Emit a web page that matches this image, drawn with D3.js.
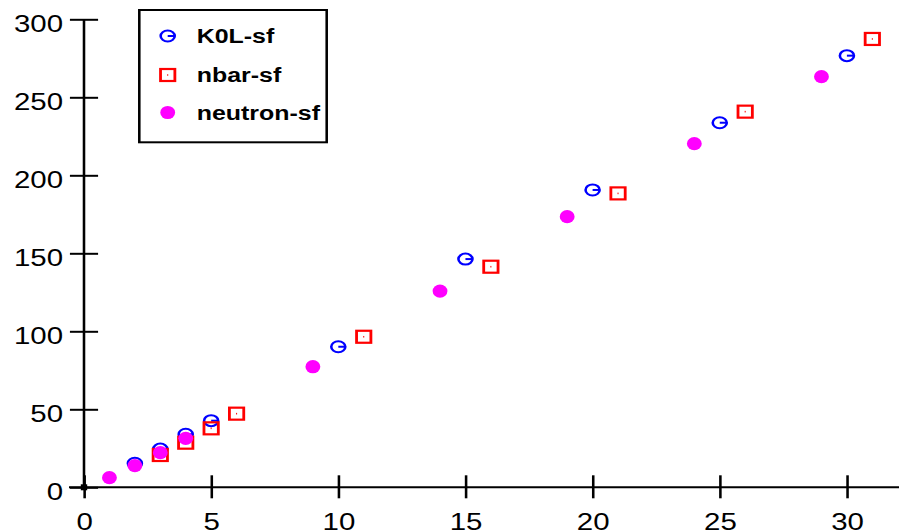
<!DOCTYPE html>
<html>
<head>
<meta charset="utf-8">
<script src="https://cdn.jsdelivr.net/npm/d3@7/dist/d3.min.js"></script>
<style>
  html, body { margin: 0; padding: 0; background: #fff; }
  svg { display: block; }
  text { font-family: "Liberation Sans", Arial, sans-serif; }
</style>
</head>
<body>
<script>
// Series: x positions and values
const k0lX = [2, 3, 4, 5, 10, 15, 20, 25, 30];
const k0lY = [15.4, 24.5, 34.0, 42.7, 90.1, 146.3, 190.6, 233.7, 276.7];
const nbarX = [3, 4, 5, 6, 11, 16, 21, 26, 31];
const nbarY = [20.7, 28.6, 37.8, 47.2, 96.5, 141.4, 188.4, 240.8, 287.4];
const neutronX = [1, 2, 3, 4, 9, 14, 19, 24, 29];
const neutronY = [6.2, 13.9, 22.2, 31.4, 77.3, 125.8, 173.5, 220.3, 263.2];

const seriesNames = ["K0L-sf", "nbar-sf", "neutron-sf"];
const xTicks = [0, 5, 10, 15, 20, 25, 30];
const yTicks = [0, 50, 100, 150, 200, 250, 300];

const W = 899, H = 531;
const SX = 1.28; // horizontal stretch of the whole drawing

const svg = d3.select("body").append("svg")
  .attr("width", W).attr("height", H);

const g = svg.append("g").attr("transform", `scale(${SX},1)`);

const x = d3.scaleLinear().domain([0, 32]).range([84 / SX, (84 + 25.43 * 32) / SX]);
const y = d3.scaleLinear().domain([0, 300]).range([487.3, 19.3]);

// X axis
const xAxisG = g.append("g")
  .attr("transform", `translate(0,${y(0)})`)
  .call(d3.axisBottom(x).tickValues(xTicks).tickSize(11).tickSizeOuter(0).tickFormat(d3.format("d")));
xAxisG.select(".domain").remove();
xAxisG.append("line")
  .attr("x1", 69 / SX).attr("x2", W / SX)
  .attr("stroke", "#000").attr("stroke-width", 2);
xAxisG.selectAll(".tick line").attr("y1", -12).attr("stroke-width", 2).attr("stroke", "#000");
xAxisG.selectAll(".tick text")
  .attr("y", 42.7).attr("dy", null)
  .attr("font-size", 23).attr("fill", "#000");

// Y axis
const yAxisG = g.append("g")
  .attr("transform", `translate(${x(0)},0)`)
  .call(d3.axisLeft(y).tickValues(yTicks).tickSize(11).tickSizeOuter(0).tickFormat(d3.format("d")));
yAxisG.select(".domain").attr("stroke", "#000").attr("stroke-width", 2)
  .attr("d", `M0,${y(300)}V${y(0)}`);
yAxisG.selectAll(".tick line").attr("x2", -11).attr("x1", 11).attr("stroke-width", 2).attr("stroke", "#000");
yAxisG.selectAll(".tick text")
  .attr("x", -16.4).attr("y", 12.5).attr("dy", null)
  .attr("font-size", 23).attr("fill", "#000");

// Origin marker
g.append("rect")
  .attr("x", x(0) - 2.5).attr("y", y(0) - 3)
  .attr("width", 5).attr("height", 6).attr("fill", "#000");

// Marker drawing helpers
function drawCircleMarker(sel) {
  sel.append("circle").attr("r", 5.5).attr("fill", "none")
    .attr("stroke", "#0000ff").attr("stroke-width", 2);
  sel.append("line").attr("x1", 0).attr("x2", 5.5)
    .attr("stroke", "#0000ff").attr("stroke-width", 2);
}
function drawSquareMarker(sel) {
  sel.append("rect").attr("x", -5.6).attr("y", -6).attr("width", 11.2).attr("height", 12)
    .attr("fill", "none").attr("stroke", "#ff0000").attr("stroke-width", 2.2);
  sel.append("rect").attr("x", -0.4).attr("y", -0.8).attr("width", 0.8).attr("height", 1.6)
    .attr("fill", "#ff0000");
}
function drawDotMarker(sel) {
  sel.append("ellipse").attr("rx", 5.8).attr("ry", 6.6).attr("fill", "#ff00ff");
}

const k0l = k0lX.map((v, i) => ({ x: v, y: k0lY[i] }));
const nbar = nbarX.map((v, i) => ({ x: v, y: nbarY[i] }));
const neutron = neutronX.map((v, i) => ({ x: v, y: neutronY[i] }));

g.append("g").selectAll("g").data(k0l).join("g")
  .attr("transform", d => `translate(${x(d.x)},${y(d.y)})`)
  .each(function () { drawCircleMarker(d3.select(this)); });

g.append("g").selectAll("g").data(nbar).join("g")
  .attr("transform", d => `translate(${x(d.x)},${y(d.y)})`)
  .each(function () { drawSquareMarker(d3.select(this)); });

g.append("g").selectAll("g").data(neutron).join("g")
  .attr("transform", d => `translate(${x(d.x)},${y(d.y)})`)
  .each(function () { drawDotMarker(d3.select(this)); });

// Legend
const legend = g.append("g");
legend.append("rect")
  .attr("x", 139.3 / SX).attr("y", 10)
  .attr("width", (326.7 - 139.3) / SX).attr("height", 132.3)
  .attr("fill", "#fff").attr("stroke", "#000").attr("stroke-width", 2);

const legendRows = [36, 75, 112.5];
const drawers = [drawCircleMarker, drawSquareMarker, drawDotMarker];
seriesNames.forEach((name, i) => {
  const row = legend.append("g").attr("transform", `translate(0,${legendRows[i]})`);
  const m = row.append("g").attr("transform", `translate(${167.7 / SX},0)`);
  drawers[i](m);
  row.append("text")
    .attr("x", 196.7 / SX).attr("y", 7.2)
    .attr("font-size", 19.5).attr("font-weight", "bold").attr("fill", "#000")
    .text(name);
});
</script>
</body>
</html>
